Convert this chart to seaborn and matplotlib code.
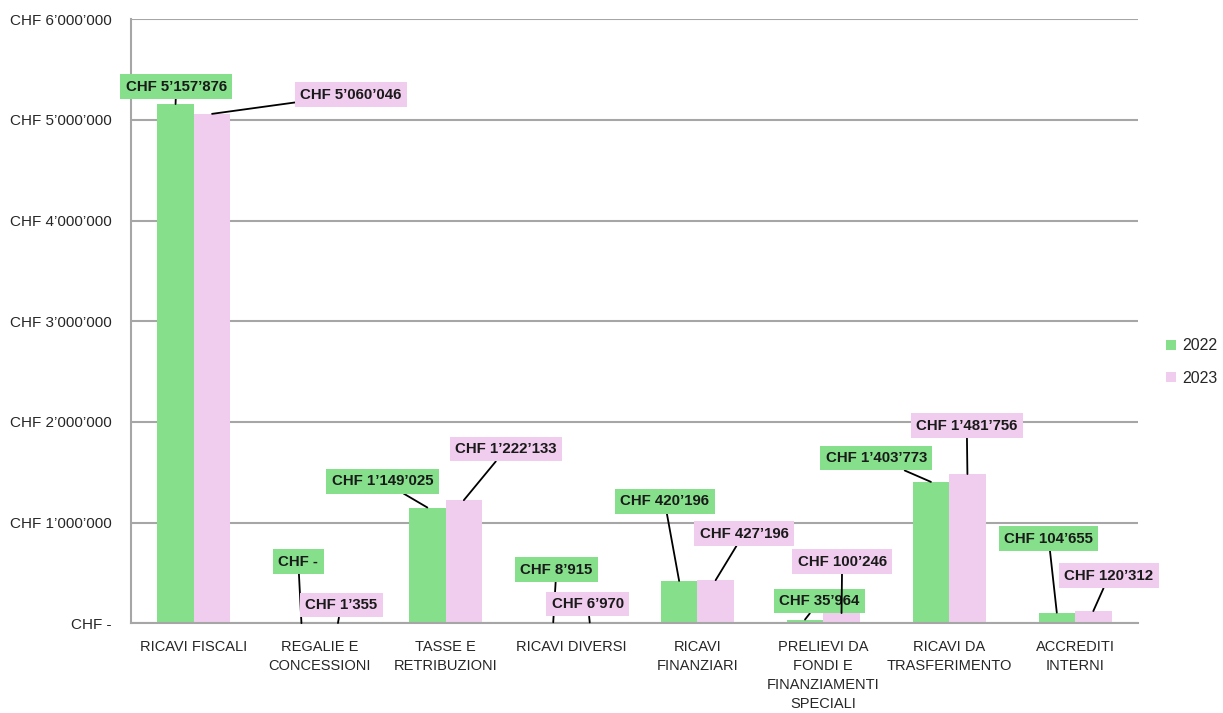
import pandas as pd
import seaborn as sns
import matplotlib.pyplot as plt

categorie = ["RICAVI FISCALI", "REGALIE E\nCONCESSIONI", "TASSE E\nRETRIBUZIONI", "RICAVI DIVERSI",
             "RICAVI\nFINANZIARI", "PRELIEVI DA\nFONDI E\nFINANZIAMENTI\nSPECIALI",
             "RICAVI DA\nTRASFERIMENTO", "ACCREDITI\nINTERNI"]
valori_2022 = [5157876, 0, 1149025, 8915, 420196, 35964, 1403773, 104655]
valori_2023 = [5060046, 1355, 1222133, 6970, 427196, 100246, 1481756, 120312]
anni = ["2022", "2023"]

# posizioni delle etichette (indice categoria, valore)
pos_2022 = [(-0.14, 5.33e6), (0.83, 0.61e6), (1.5, 1.41e6), (2.88, 0.53e6),
            (3.74, 1.21e6), (4.97, 0.22e6), (5.42, 1.64e6), (6.79, 0.84e6)]
pos_2023 = [(1.25, 5.25e6), (1.17, 0.18e6), (2.48, 1.73e6), (3.13, 0.19e6),
            (4.37, 0.89e6), (5.15, 0.61e6), (6.14, 1.96e6), (7.27, 0.47e6)]

verde = "#85DF8B"
rosa = "#F0CDEE"
grigio = "#A6A6A6"

df = pd.DataFrame({
    "categoria": categorie * 2,
    "anno": [anni[0]] * len(categorie) + [anni[1]] * len(categorie),
    "valore": valori_2022 + valori_2023,
})

sns.set_style("white")
plt.rcParams['font.family'] = ['Liberation Sans', 'DejaVu Sans']

fig = plt.figure(figsize=(12.23, 7.13), dpi=100)
ax = fig.add_axes([0.107, 0.126, 0.8235, 0.847])

sns.barplot(data=df, x="categoria", y="valore", hue="anno", palette=[verde, rosa],
            width=0.58, gap=0, saturation=1, linewidth=0, ax=ax, legend=True)


def formatta(v):
    if v == 0:
        return "CHF -"
    return "CHF " + f"{v:,.0f}".replace(",", "\u2019")


n = len(categorie)
barre = ax.patches[:2 * n]
for k, (valori, posizioni, colore) in enumerate([(valori_2022, pos_2022, verde),
                                                 (valori_2023, pos_2023, rosa)]):
    for i, v in enumerate(valori):
        b = barre[k * n + i]
        xc = b.get_x() + b.get_width() / 2
        ax.annotate(formatta(v), xy=(xc, v), xytext=posizioni[i],
                    ha="center", va="center", fontsize=10.8, fontweight="bold",
                    color="#1a1a1a",
                    bbox=dict(boxstyle="square,pad=0.36", fc=colore, ec="none"),
                    arrowprops=dict(arrowstyle="-", color="black", lw=1.3,
                                    shrinkA=0, shrinkB=0))

ax.set_ylim(0, 6e6)
ax.set_xlim(-0.5, n - 0.5)
ax.set_yticks([i * 1e6 for i in range(7)])
ax.set_yticklabels(["CHF -"] + [f"CHF {i}\u2019000\u2019000" for i in range(1, 7)], fontsize=11)
ax.set_xticks(range(n))
ax.set_xticklabels(categorie, fontsize=10.5, linespacing=1.45)
ax.set_xticks([i - 0.5 for i in range(n + 1)], minor=True)
ax.tick_params(axis="x", which="major", length=0, pad=12)
ax.tick_params(axis="x", which="minor", length=6, color=grigio, width=1.3)
ax.tick_params(axis="y", length=4, color=grigio, width=1.3, pad=10)
ax.grid(axis="y", color=grigio, lw=1.5)
ax.set_axisbelow(True)
for s in ["top", "right"]:
    ax.spines[s].set_visible(False)
for s in ["left", "bottom"]:
    ax.spines[s].set_color(grigio)
    ax.spines[s].set_linewidth(1.5)
ax.set_xlabel("")
ax.set_ylabel("")

leg = ax.legend(loc="center left", bbox_to_anchor=(1.028, 0.432), frameon=False,
                fontsize=11.5, handlelength=0.6, handleheight=0.6, handletextpad=0.4,
                labelspacing=1.1, borderpad=0, borderaxespad=0)

fig.savefig("out.png", dpi=100)
